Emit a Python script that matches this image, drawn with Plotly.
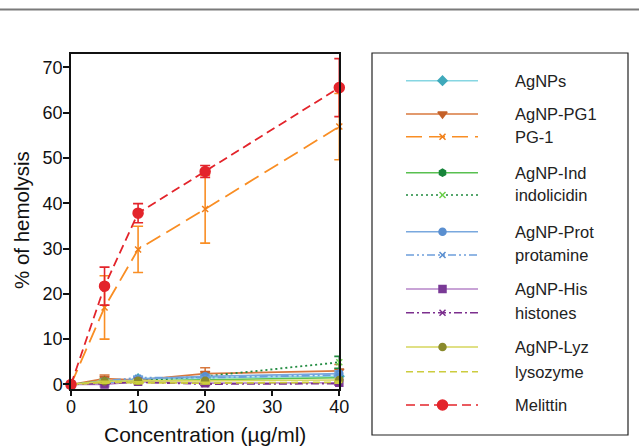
import plotly.graph_objects as go

W, H = 639, 447

# ---------------- data ----------------
conc = [0, 5, 10, 20, 40]

agnps = [0, 0.5, 1.3, 1.5, 1.8]
agnps_err = [0, 0.4, 0.5, 0.4, 0.5]
agnp_pg1 = [0, 1.3, 1.0, 2.4, 3.0]
agnp_pg1_err = [0, 0.8, 0.5, 1.3, 1.4]
pg1 = [0, 17.0, 29.8, 38.7, 56.9]
pg1_err = [0, 7.0, 5.1, 7.5, 7.3]
agnp_ind = [0, 0.8, 0.8, 1.0, 1.5]
agnp_ind_err = [0, 0.4, 0.4, 0.4, 0.5]
indolicidin = [0, 0.5, 0.8, 1.8, 4.9]
indolicidin_err = [0, 0.3, 0.3, 0.4, 1.3]
agnp_prot = [0, 0.3, 1.2, 1.8, 2.4]
agnp_prot_err = [0, 0.4, 0.4, 0.4, 0.6]
protamine = [0, 0.8, 1.5, 1.5, 2.1]
protamine_err = [0, 0.3, 0.3, 0.3, 0.5]
agnp_his = [0, 0.0, 0.6, 0.3, 0.4]
agnp_his_err = [0, 0.5, 0.3, 0.5, 0.5]
histones = [0, 0.2, 0.5, 0.1, 0.2]
histones_err = [0, 0.2, 0.2, 0.2, 0.3]
agnp_lyz = [0, 0.7, 0.8, 0.8, 1.0]
agnp_lyz_err = [0, 0.3, 0.3, 0.3, 0.3]
lysozyme = [0, 0.5, 0.4, 0.3, 0.5]
lysozyme_err = [0, 0.2, 0.2, 0.2, 0.2]
melittin = [0, 21.7, 37.8, 47.0, 65.5]
melittin_err = [0, 4.2, 2.1, 1.3, 6.4]

x_ticks = [0, 10, 20, 30, 40]
y_ticks = [0, 10, 20, 30, 40, 50, 60, 70]

# ---------------- styles ----------------
series = [
    # name, y, err, line color, marker color, dash, symbol, marker size, legend row y (px)
    ("AgNPs", agnps, agnps_err, "#86d6e2", "#3fa9bb", "solid", "diamond", 7, 80.7),
    ("AgNP-PG1", agnp_pg1, agnp_pg1_err, "#d8783e", "#c4612a", "solid", "triangle-down", 8, 114),
    ("PG-1", pg1, pg1_err, "#f98e24", "#f07f1a", "16px,7px", "x-thin-open", 6, 136.7),
    ("AgNP-Ind", agnp_ind, agnp_ind_err, "#58c050", "#17843a", "solid", "hexagon", 7, 172.7),
    ("indolicidin", indolicidin, indolicidin_err, "#1f8a3e", "#6ccf4a", "2px,3px", "x-thin-open", 6, 195),
    ("AgNP-Prot", agnp_prot, agnp_prot_err, "#79a8de", "#5a8fd0", "solid", "circle-cross", 7, 231.7),
    ("protamine", protamine, protamine_err, "#6d9fdb", "#5a8fd0", "8px,3px,2px,3px,2px,3px", "x-thin-open", 6, 255),
    ("AgNP-His", agnp_his, agnp_his_err, "#b684c8", "#7a3a96", "solid", "square", 7, 289),
    ("histones", histones, histones_err, "#7c2f8e", "#7c2f8e", "8px,3px,2px,3px", "x-thin-open", 6, 312.7),
    ("AgNP-Lyz", agnp_lyz, agnp_lyz_err, "#d6d65c", "#8a8a2c", "solid", "circle", 7, 347),
    ("lysozyme", lysozyme, lysozyme_err, "#cccc3e", "#cccc3e", "7px,4px", "line-ew", 1, 371.7),
    ("Melittin", melittin, melittin_err, "#e3242b", "#e3242b", "9px,5px", "circle", 10, 405),
]

fig = go.Figure()

# main plot traces (low series first, then PG-1, then Melittin on top)
order = [0, 1, 3, 4, 5, 6, 7, 8, 9, 10, 2, 11]
for i in order:
    name, ys, err, lc, mc, dash, sym, ms, _ = series[i]
    lw = 1.6 if dash == "solid" else 1.8
    fig.add_trace(go.Scatter(
        x=conc, y=ys, name=name, mode="lines+markers",
        line=dict(color=lc, width=lw, dash=dash),
        marker=dict(color=mc, size=ms if ms > 1 else 4, symbol=sym,
                    line=dict(color=mc, width=1.5)),
        error_y=dict(type="data", array=err, visible=True, color=lc,
                     thickness=1.6, width=5),
        cliponaxis=False, showlegend=False,
        xaxis="x", yaxis="y",
    ))

# manual legend samples on an auxiliary pixel-like axis
for name, ys, err, lc, mc, dash, sym, ms, ry in series:
    fig.add_trace(go.Scatter(
        x=[406, 478], y=[ry, ry], mode="lines",
        line=dict(color=lc, width=1.6, dash=dash),
        showlegend=False, hoverinfo="skip", xaxis="x2", yaxis="y2"))
    if ms > 1:
        fig.add_trace(go.Scatter(
            x=[442.5], y=[ry], mode="markers",
            marker=dict(color=mc, size=ms, symbol=sym, line=dict(color=mc, width=1.5)),
            showlegend=False, hoverinfo="skip", xaxis="x2", yaxis="y2"))

annotations = []
for name, ys, err, lc, mc, dash, sym, ms, ry in series:
    annotations.append(dict(
        x=513, y=ry, xref="x2", yref="y2", text=name, showarrow=False,
        xanchor="left", yanchor="middle",
        font=dict(family="Liberation Sans, Arial, sans-serif", size=16.5, color="#222")))

# axis titles
annotations.append(dict(
    x=205 / W, y=1 - 434 / H, xref="paper", yref="paper",
    text="Concentration (\u00b5g/ml)", showarrow=False,
    xanchor="center", yanchor="middle",
    font=dict(family="Liberation Sans, Arial, sans-serif", size=21, color="#111")))
annotations.append(dict(
    x=21 / W, y=1 - 220 / H, xref="paper", yref="paper",
    text="% of hemolysis", showarrow=False, textangle=-90,
    xanchor="center", yanchor="middle",
    font=dict(family="Liberation Sans, Arial, sans-serif", size=20.5, color="#111")))

shapes = [
    # top rule
    dict(type="line", xref="paper", yref="paper", x0=0, x1=1,
         y0=1 - 9.5 / H, y1=1 - 9.5 / H, line=dict(color="#7a7a7a", width=2)),
    # legend box
    dict(type="rect", xref="paper", yref="paper",
         x0=372 / W, x1=628 / W, y0=1 - 435 / H, y1=1 - 53 / H,
         line=dict(color="#222", width=1.2)),
]

tickfont = dict(family="Liberation Sans, Arial, sans-serif", size=18, color="#111")

fig.update_layout(
    width=W, height=H,
    margin=dict(l=0, r=0, t=0, b=0, autoexpand=False),
    paper_bgcolor="white", plot_bgcolor="white",
    showlegend=False,
    xaxis=dict(domain=[71 / W, 339.3 / W], range=[0, 40], automargin=False,
               tickvals=x_ticks, ticks="outside", ticklen=5, tickwidth=1.5,
               tickcolor="#111", showline=True, linecolor="#111", linewidth=1.5,
               mirror=True, showgrid=False, zeroline=False, tickfont=tickfont,
               ticklabelstandoff=-4, anchor="y"),
    yaxis=dict(domain=[1 - 388.8 / H, 1 - 53.8 / H], range=[-0.95, 72.96], automargin=False,
               tickvals=y_ticks, ticks="outside", ticklen=6, tickwidth=1.5,
               tickcolor="#111", showline=True, linecolor="#111", linewidth=1.5,
               mirror=True, showgrid=False, zeroline=False, tickfont=tickfont,
               ticklabelstandoff=-3, anchor="x"),
    xaxis2=dict(domain=[372 / W, 628 / W], range=[372, 628], visible=False,
                anchor="y2", fixedrange=True, automargin=False),
    yaxis2=dict(domain=[1 - 435 / H, 1 - 53 / H], range=[435, 53], visible=False,
                anchor="x2", fixedrange=True, automargin=False),
    annotations=annotations,
    shapes=shapes,
)

fig.write_html(
    "out.html",
    config={"displayModeBar": False},
    post_script="document.body.style.margin='0';document.body.style.overflow='hidden';",
)
